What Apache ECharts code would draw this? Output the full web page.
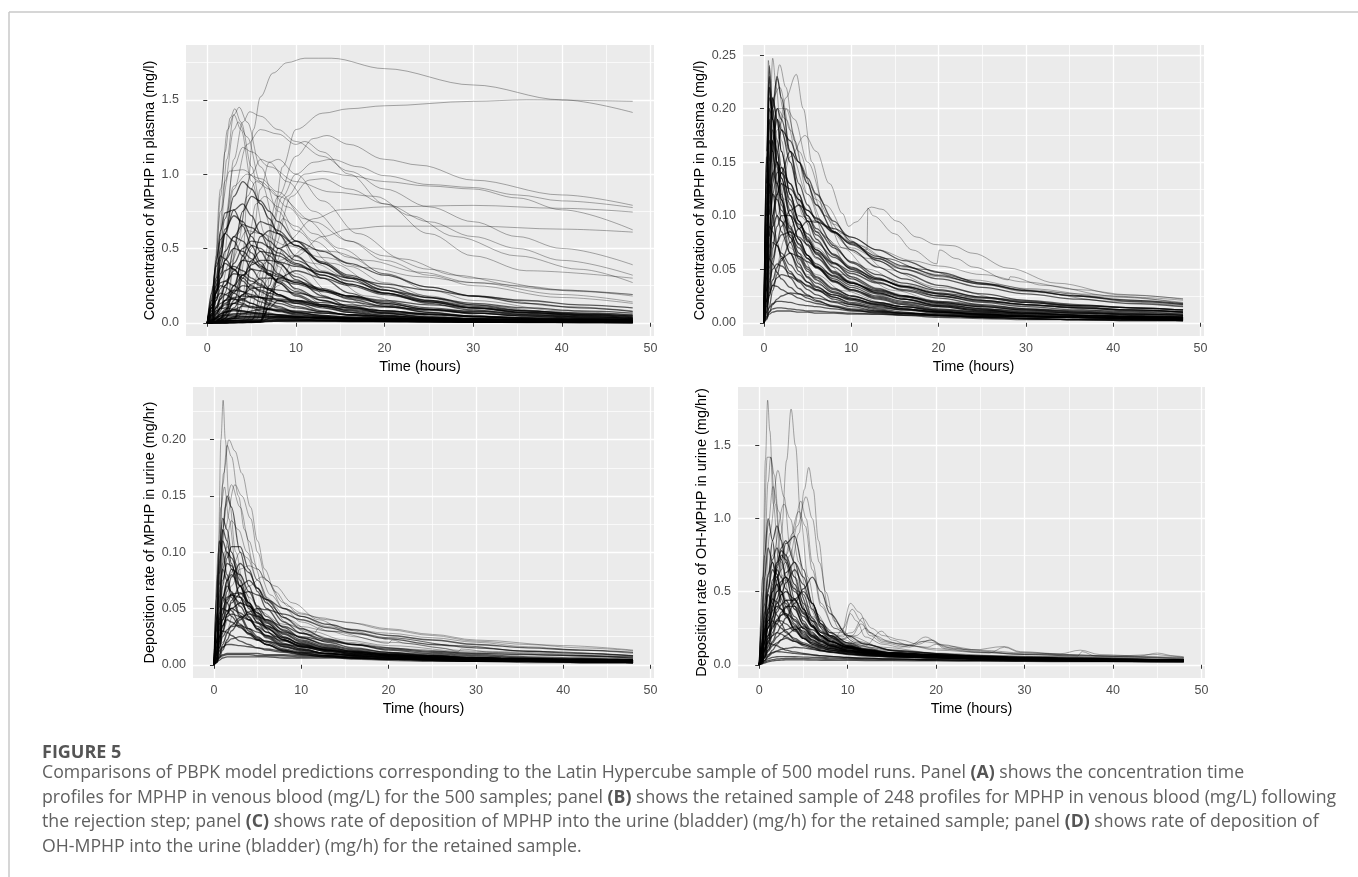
<!DOCTYPE html>
<html>
<head>
<meta charset="utf-8">
<title>Figure 5</title>
<script src="https://cdn.jsdelivr.net/npm/echarts@6/dist/echarts.min.js"></script>
<style>
html,body{margin:0;padding:0;background:#fff;}
#main{width:1358px;height:877px;}
</style>
</head>
<body>
<div id="main"></div>
<script>
// tick labels
var timeTicks = [0, 10, 20, 30, 40, 50];
var plasmaAllTicks = [0, 0.5, 1, 1.5];
var plasmaKeptTicks = [0, 0.05, 0.1, 0.15, 0.2, 0.25];
var urineMphpTicks = [0, 0.05, 0.1, 0.15, 0.2];
var urineOhTicks = [0, 0.5, 1, 1.5];

// time grids (hours) for the bulk of the runs
var tA = [0, 0.5, 1, 1.5, 2, 3, 4, 5, 6, 7, 8, 10, 13, 16, 20, 25, 30, 36, 42, 48];
var tB = [0, 0.3, 0.6, 1, 1.5, 2, 3, 4, 5, 6, 8, 10, 13, 16, 20, 25, 30, 36, 42, 48];
var tD = [0, 0.3, 0.6, 1, 1.5, 2, 2.5, 3, 4, 5, 6, 7, 8, 10, 12, 15, 20, 25, 30, 36, 42, 48];

// panel A - all 500 runs, plasma mg/l (values on tA)
var plasmaAllGrid = [
  [0,.08,.3,.5,.63,.72,.68,.58,.48,.4,.33,.23,.15,.1,.065,.04,.026,.016,.01,.007],
  [0,.04,.15,.3,.42,.58,.66,.64,.6,.55,.5,.42,.34,.28,.22,.17,.13,.1,.08,.065],
  [0,.15,.42,.56,.6,.55,.45,.36,.29,.23,.19,.13,.08,.05,.03,.015,.01,.006,.004,.003],
  [0,.02,.08,.16,.25,.4,.5,.55,.54,.51,.47,.4,.32,.26,.2,.15,.11,.08,.06,.045],
  [0,.06,.2,.33,.42,.5,.48,.43,.37,.32,.28,.21,.15,.11,.08,.055,.04,.03,.02,.015],
  [0,0,.005,.01,.03,.15,.3,.42,.48,.47,.45,.39,.32,.26,.2,.14,.1,.07,.05,.035],
  [0,.2,.38,.45,.43,.36,.28,.22,.17,.13,.11,.07,.045,.03,.018,.01,.006,.004,.003,.002],
  [0,.03,.1,.18,.25,.35,.42,.41,.38,.35,.32,.27,.22,.18,.15,.12,.1,.08,.065,.055],
  [0,.08,.2,.3,.35,.38,.35,.3,.26,.22,.19,.14,.1,.07,.05,.03,.02,.014,.01,.007],
  [0,.01,.05,.1,.15,.25,.32,.36,.35,.33,.31,.27,.22,.18,.14,.1,.075,.055,.04,.03],
  [0,.05,.15,.23,.28,.33,.32,.28,.25,.22,.19,.15,.11,.085,.06,.04,.03,.02,.015,.012],
  [0,0,0,0,.002,.005,.008,.01,.015,.2,.3,.28,.23,.18,.13,.09,.065,.045,.03,.022],
  [0,.1,.22,.27,.28,.25,.21,.17,.14,.12,.1,.07,.05,.035,.022,.013,.008,.005,.003,.002],
  [0,.02,.06,.11,.15,.21,.25,.24,.22,.2,.18,.15,.12,.1,.08,.06,.045,.035,.027,.02],
  [0,0,.01,.03,.06,.13,.19,.23,.24,.23,.22,.2,.17,.14,.11,.085,.065,.05,.04,.03],
  [0,.04,.11,.16,.19,.22,.21,.19,.17,.15,.13,.1,.075,.055,.04,.026,.018,.012,.008,.006],
  [0,.1,.17,.2,.19,.16,.13,.1,.08,.065,.055,.04,.028,.02,.013,.008,.005,.003,.002,.001],
  [0,.01,.03,.06,.09,.13,.16,.18,.17,.16,.15,.13,.11,.09,.07,.055,.042,.032,.025,.02],
  [0,.04,.1,.13,.15,.16,.15,.13,.11,.095,.08,.06,.042,.03,.02,.012,.008,.005,.003,.002],
  [0,0,0,0,0,.003,.005,.008,.01,.1,.15,.14,.12,.1,.08,.06,.045,.033,.025,.018],
  [0,.03,.07,.1,.12,.13,.12,.11,.1,.09,.08,.065,.05,.04,.03,.022,.016,.012,.009,.007],
  [0,.01,.03,.05,.07,.09,.11,.105,.1,.095,.09,.08,.065,.055,.045,.035,.028,.022,.017,.013],
  [0,.05,.08,.095,.1,.09,.08,.065,.055,.045,.038,.028,.019,.013,.008,.005,.003,.002,.001,.001],
  [0,0,.005,.01,.02,.04,.06,.08,.09,.088,.085,.075,.065,.055,.045,.035,.028,.022,.018,.014],
  [0,.02,.04,.06,.07,.08,.075,.07,.064,.058,.052,.043,.034,.027,.02,.015,.011,.008,.006,.005],
  [0,.01,.025,.035,.045,.058,.065,.063,.06,.057,.054,.048,.042,.037,.032,.027,.023,.019,.016,.013],
  [0,.02,.035,.045,.05,.048,.044,.04,.036,.032,.029,.024,.019,.015,.011,.008,.006,.004,.003,.002],
  [0,0,0,0,0,.002,.004,.006,.008,.03,.04,.038,.034,.03,.026,.022,.019,.016,.014,.012],
  [0,.003,.008,.014,.02,.028,.033,.035,.034,.033,.032,.03,.028,.026,.024,.022,.02,.018,.016,.015],
  [0,.01,.02,.025,.028,.03,.029,.027,.025,.023,.021,.018,.015,.012,.01,.008,.006,.005,.004,.003],
  [0,.005,.01,.013,.015,.017,.018,.018,.018,.018,.017,.017,.016,.015,.014,.013,.012,.011,.01,.009],
  [0,.002,.005,.007,.008,.009,.009,.009,.009,.009,.009,.008,.008,.007,.007,.006,.006,.005,.005,.004],
  [0,0,0,0,0,.002,.004,.006,.01,.25,.5,.55,.48,.4,.32,.24,.18,.13,.1,.075],
  [0,.01,.03,.08,.2,.5,.75,.85,.82,.75,.68,.55,.4,.3,.2,.13,.085,.055,.035,.024],
  [0,.05,.2,.42,.6,.85,.95,.9,.8,.7,.6,.45,.3,.2,.12,.07,.04,.022,.013,.008],
  [0,0,.01,.02,.05,.22,.45,.6,.68,.66,.62,.52,.41,.32,.24,.17,.12,.08,.055,.04],
  [0,.01,.03,.045,.055,.06,.058,.054,.05,.046,.043,.037,.031,.026,.021,.016,.013,.01,.008,.006],
  [0,.004,.012,.02,.026,.034,.038,.04,.04,.039,.038,.036,.033,.03,.027,.024,.021,.019,.017,.015],
  [0,.015,.04,.06,.075,.085,.08,.072,.064,.057,.05,.04,.03,.023,.016,.011,.008,.005,.004,.003],
  [0,0,0,0,0,.001,.002,.003,.004,.015,.022,.022,.02,.018,.016,.014,.012,.011,.01,.009],
  [0,.12,.4,.62,.74,.76,.65,.52,.41,.33,.27,.18,.11,.07,.04,.022,.013,.008,.005,.003],
  [0,0,.01,.03,.07,.2,.32,.39,.42,.42,.41,.38,.34,.3,.26,.22,.18,.15,.12,.1],
  [0,.06,.22,.38,.48,.58,.55,.47,.39,.32,.27,.19,.12,.08,.05,.03,.018,.011,.007,.005],
  [0,0,.01,.03,.08,.25,.42,.52,.5,.45,.4,.31,.22,.16,.11,.07,.045,.028,.018,.012],
  [0,.1,.28,.37,.4,.36,.3,.25,.21,.18,.15,.11,.075,.052,.034,.021,.013,.008,.005,.003],
  [0,0,.005,.015,.03,.1,.19,.26,.3,.3,.29,.26,.21,.17,.13,.09,.065,.045,.032,.023],
  [0,0,0,.005,.01,.03,.12,.4,.58,.62,.6,.52,.4,.31,.22,.15,.1,.065,.043,.028],
  [0,.12,.21,.25,.24,.2,.16,.13,.105,.088,.075,.055,.038,.027,.017,.01,.006,.004,.002,.001],
  [0,.02,.06,.1,.13,.17,.18,.175,.17,.165,.16,.15,.135,.12,.105,.09,.078,.066,.056,.048],
  [0,.008,.02,.03,.036,.042,.044,.044,.043,.042,.041,.039,.036,.033,.03,.027,.024,.021,.019,.017],
  [0,.001,.003,.005,.007,.01,.012,.013,.013,.013,.013,.013,.012,.012,.011,.011,.01,.009,.009,.008],
  [0,0,0,0,0,0,.001,.002,.003,.008,.012,.014,.014,.013,.012,.011,.01,.009,.008,.007],
  [0,.06,.25,.45,.6,.76,.8,.72,.6,.5,.41,.29,.18,.11,.065,.035,.02,.011,.006,.004],
  [0,0,0,0,0,.001,.002,.003,.005,.12,.3,.35,.3,.25,.19,.14,.1,.07,.05,.035]
];
// panel A - individually visible runs, [hours, mg/l]
var plasmaAllCurves = [
  [[0,0],[3.2,0.02],[4,0.45],[4.6,0.95],[5.2,1.3],[6,1.52],[7.4,1.68],[9,1.75],[11,1.78],[14,1.78],[20,1.71],[30,1.6],[40,1.5],[48,1.415]],
  [[0,0],[5,0.02],[6.5,0.3],[7.5,0.7],[8.5,1.05],[10,1.3],[13,1.41],[16,1.44],[20,1.46],[30,1.49],[36,1.5],[48,1.49]],
  [[0,0],[0.5,0.1],[1,0.45],[1.5,0.85],[2,1.15],[2.6,1.38],[3.1,1.44],[3.8,1.35],[5,1.05],[6,0.8],[8,0.5],[10,0.33],[14,0.16],[20,0.07],[30,0.02],[48,0.005]],
  [[0,0],[0.8,0.1],[1.5,0.6],[2.2,1.1],[3,1.4],[3.6,1.45],[4.5,1.35],[6,1.05],[8,0.75],[10,0.55],[13,0.35],[18,0.18],[25,0.08],[35,0.03],[48,0.01]],
  [[0,0],[1,0.15],[2,0.6],[3,1.1],[4,1.35],[4.8,1.42],[6,1.39],[8,1.3],[10,1.22],[13,1.12],[16,1.02],[20,0.9],[25,0.78],[30,0.68],[35,0.58],[40,0.5],[48,0.39]],
  [[0,0],[4,0.02],[6,0.35],[8,0.85],[10,1.12],[12,1.24],[13.5,1.26],[16,1.2],[20,1.1],[24,1.06],[30,0.96],[40,0.86],[48,0.79]],
  [[0,0],[4.5,0.02],[6.5,0.4],[8.5,0.85],[10,1.0],[12,1.08],[14,1.1],[17,1.05],[20,0.99],[25,0.93],[30,0.91],[35,0.86],[40,0.82],[48,0.775]],
  [[0,0],[5,0.02],[7,0.45],[9,0.85],[11,1.0],[13,1.02],[16,0.99],[20,0.95],[25,0.92],[30,0.9],[35,0.84],[40,0.76],[48,0.625]],
  [[0,0],[5.5,0.02],[7.5,0.5],[9.5,0.85],[11.5,0.96],[13,0.97],[16,0.9],[20,0.8],[25,0.68],[30,0.58],[35,0.5],[40,0.42],[48,0.32]],
  [[0,0],[5,0.02],[7,0.3],[9,0.55],[12,0.7],[15,0.76],[20,0.78],[30,0.79],[40,0.77],[48,0.745]],
  [[0,0],[6,0.02],[8,0.25],[10,0.45],[13,0.58],[16,0.63],[20,0.65],[30,0.65],[40,0.63],[48,0.61]],
  [[0,0],[1.5,0.3],[3,0.9],[4.5,1.2],[6,1.3],[8,1.27],[10,1.2],[11,1.22],[13,1.15],[16,1.0],[20,0.8],[25,0.6],[30,0.45],[36,0.35],[48,0.3]],
  [[0,0],[1,0.2],[2,0.7],[3,1.05],[4,1.18],[5,1.15],[7,1.05],[10,0.95],[14,0.88],[19,0.85],[23,0.72],[28,0.58],[35,0.45],[42,0.36],[48,0.27]],
  [[0,0],[0.7,0.2],[1.5,0.75],[2.5,1.02],[4,1.03],[6,0.95],[8,0.85],[12,0.68],[16,0.55],[20,0.45],[25,0.36],[30,0.3],[40,0.22],[48,0.18]],
  [[0,0],[2,0.1],[3.5,0.6],[5,1.0],[6,1.1],[7,1.08],[9,0.95],[12,0.75],[16,0.55],[20,0.42],[25,0.32],[30,0.25],[40,0.17],[48,0.13]],
  [[0,0],[1,0.3],[2,0.95],[3,1.3],[3.5,1.35],[4.5,1.25],[6,0.95],[8,0.6],[10,0.4],[14,0.2],[20,0.08],[30,0.03],[48,0.01]],
  [[0,0],[0.7,0.25],[1.5,0.9],[2.3,1.3],[3,1.4],[3.8,1.3],[5,0.95],[6.5,0.6],[8,0.38],[10,0.22],[14,0.09],[20,0.03],[48,0.005]],
  [[0,0],[3,0.02],[4.5,0.5],[5.5,0.8],[6.5,0.85],[8,0.78],[10,0.62],[14,0.4],[20,0.22],[25,0.14],[30,0.09],[40,0.05],[48,0.03]],
  [[0,0],[6.5,0.02],[7,0.3],[7.8,0.6],[8.5,0.7],[10,0.65],[12,0.55],[16,0.38],[20,0.27],[25,0.18],[30,0.12],[40,0.06],[48,0.04]],
  [[0,0],[1,0.1],[2.5,0.4],[4.5,0.62],[6,0.6],[9,0.52],[13,0.44],[18,0.37],[24,0.31],[30,0.27],[40,0.22],[48,0.19]],
  [[0,0],[5,0.02],[7,0.2],[9,0.42],[11,0.5],[14,0.48],[18,0.42],[24,0.34],[30,0.27],[40,0.19],[48,0.14]],
  [[0,0],[2,0.08],[3.5,0.55],[4.5,0.85],[5.5,0.95],[7,0.9],[9,0.78],[12,0.6],[16,0.44],[20,0.33],[25,0.24],[30,0.18],[40,0.11],[48,0.08]],
  [[0,0],[6.8,0.02],[7.3,0.25],[8.2,0.42],[9.5,0.45],[12,0.4],[16,0.3],[22,0.2],[30,0.12],[40,0.07],[48,0.045]],
  [[0,0],[1,0.25],[2,0.7],[3,0.92],[4.5,1.0],[6,0.97],[8,0.88],[11,0.7],[15,0.5],[20,0.33],[25,0.22],[30,0.15],[40,0.08],[48,0.05]],
  [[0,0],[3.5,0.03],[5,0.5],[6,0.9],[7,1.08],[8,1.1],[10,1.0],[13,0.82],[17,0.6],[22,0.43],[28,0.32],[35,0.25],[42,0.21],[48,0.19]]
];

// panel B - 248 retained runs, plasma mg/l (values on tB)
var plasmaKeptGrid = [
  [0,.12,.22,.19,.15,.12,.085,.065,.052,.043,.032,.025,.019,.015,.011,.008,.006,.005,.004,.003],
  [0,.06,.15,.21,.19,.16,.12,.095,.078,.065,.048,.038,.028,.022,.016,.012,.009,.007,.006,.005],
  [0,.04,.11,.17,.2,.19,.16,.13,.11,.095,.072,.056,.042,.033,.025,.019,.015,.012,.01,.008],
  [0,.13,.19,.16,.12,.095,.065,.048,.038,.031,.022,.017,.012,.009,.007,.005,.004,.003,.003,.002],
  [0,.03,.08,.13,.16,.18,.17,.15,.13,.11,.085,.068,.052,.041,.031,.024,.019,.015,.012,.01],
  [0,.07,.14,.17,.15,.13,.1,.078,.063,.052,.038,.03,.022,.017,.012,.009,.007,.005,.004,.004],
  [0,.02,.05,.09,.12,.14,.16,.15,.135,.12,.095,.076,.058,.046,.035,.027,.021,.017,.014,.012],
  [0,.155,.13,.1,.075,.06,.042,.032,.026,.021,.015,.012,.009,.007,.005,.004,.003,.003,.002,.002],
  [0,.04,.1,.14,.15,.14,.115,.095,.08,.068,.052,.041,.031,.025,.019,.015,.012,.009,.008,.007],
  [0,.02,.06,.1,.13,.14,.13,.115,.1,.088,.07,.057,.045,.037,.03,.024,.02,.016,.014,.012],
  [0,.08,.13,.12,.1,.085,.065,.052,.043,.037,.028,.022,.017,.013,.01,.008,.006,.005,.004,.003],
  [0,.04,.09,.12,.115,.105,.088,.074,.063,.055,.043,.035,.027,.022,.017,.013,.011,.009,.007,.006],
  [0,.01,.03,.055,.075,.09,.105,.11,.105,.098,.085,.073,.06,.05,.041,.033,.027,.022,.018,.015],
  [0,.03,.065,.09,.1,.095,.082,.07,.06,.052,.041,.033,.025,.02,.015,.011,.009,.007,.006,.005],
  [0,.06,.09,.085,.072,.062,.048,.038,.031,.026,.019,.015,.011,.009,.007,.005,.004,.003,.003,.002],
  [0,.015,.04,.06,.075,.082,.085,.08,.073,.066,.055,.046,.037,.031,.025,.02,.017,.014,.012,.01],
  [0,.03,.06,.075,.072,.065,.054,.045,.038,.033,.026,.021,.016,.013,.01,.008,.006,.005,.004,.004],
  [0,.01,.025,.04,.052,.06,.065,.062,.057,.052,.044,.037,.03,.025,.02,.016,.013,.011,.009,.008],
  [0,.02,.038,.05,.055,.053,.046,.04,.034,.03,.024,.019,.015,.012,.009,.007,.006,.005,.004,.003],
  [0,.01,.025,.035,.042,.045,.043,.039,.035,.031,.026,.022,.018,.015,.012,.01,.008,.007,.006,.005],
  [0,.015,.028,.035,.034,.031,.027,.023,.02,.018,.015,.012,.01,.008,.006,.005,.004,.003,.003,.002],
  [0,.003,.01,.017,.022,.025,.028,.027,.025,.023,.02,.017,.014,.012,.01,.008,.007,.006,.005,.004],
  [0,.008,.014,.018,.02,.02,.019,.017,.016,.015,.013,.011,.01,.009,.008,.007,.006,.005,.005,.004],
  [0,.004,.008,.01,.011,.011,.011,.01,.01,.009,.009,.008,.008,.007,.007,.006,.006,.005,.005,.004],
  [0,.1,.2,.19,.16,.135,.105,.088,.076,.068,.056,.048,.04,.034,.028,.023,.019,.016,.014,.012],
  [0,.03,.07,.1,.12,.13,.125,.115,.105,.097,.084,.074,.062,.053,.044,.036,.03,.025,.021,.018],
  [0,.005,.015,.03,.045,.058,.075,.088,.095,.094,.088,.08,.068,.058,.047,.037,.03,.025,.02,.017],
  [0,.14,.24,.2,.15,.115,.075,.055,.042,.034,.024,.018,.013,.01,.007,.005,.004,.003,.002,.002],
  [0,.05,.13,.2,.23,.21,.16,.12,.095,.078,.056,.043,.032,.025,.018,.013,.01,.008,.006,.005],
  [0,.13,.21,.2,.17,.145,.11,.088,.072,.061,.046,.037,.029,.024,.019,.015,.012,.01,.008,.007],
  [0,.09,.15,.18,.16,.135,.1,.078,.063,.053,.039,.031,.023,.018,.013,.01,.008,.006,.005,.004],
  [0,.045,.06,.055,.047,.041,.033,.027,.023,.02,.016,.013,.011,.009,.008,.006,.005,.005,.004,.003],
  [0,.1,.18,.21,.19,.16,.12,.095,.077,.064,.047,.037,.028,.022,.016,.012,.009,.007,.006,.005],
  [0,.16,.23,.19,.145,.115,.08,.06,.048,.04,.029,.023,.017,.013,.01,.007,.006,.004,.004,.003],
  [0,.05,.12,.17,.19,.18,.15,.12,.1,.085,.063,.05,.038,.03,.023,.017,.013,.01,.008,.007],
  [0,.07,.12,.14,.13,.115,.09,.073,.06,.051,.039,.031,.024,.019,.015,.011,.009,.007,.006,.005],
  [0,.02,.045,.07,.09,.1,.1,.092,.083,.075,.061,.051,.041,.034,.027,.021,.017,.014,.011,.01],
  [0,.006,.01,.013,.014,.014,.013,.012,.011,.011,.01,.009,.008,.008,.007,.006,.006,.005,.004,.004],
  [0,.11,.17,.16,.13,.11,.08,.062,.05,.042,.031,.025,.019,.015,.011,.008,.006,.005,.004,.003],
  [0,.03,.08,.12,.14,.145,.13,.11,.095,.082,.064,.052,.041,.034,.027,.021,.017,.014,.012,.01]
];
var plasmaKeptCurves = [
  [[0,0],[0.5,0.03],[1.5,0.1],[3,0.155],[4.7,0.175],[6,0.16],[7.5,0.13],[9,0.102],[9.7,0.09],[10.5,0.094],[12.3,0.108],[13.5,0.106],[15.2,0.095],[17.5,0.08],[19.7,0.073],[21.6,0.072],[23.9,0.065],[28,0.051],[33.5,0.037],[41,0.026],[48,0.0225]],
  [[0,0],[0.5,0.1],[1.5,0.2],[2.5,0.2],[4,0.16],[6,0.11],[8,0.085],[10,0.075],[11.8,0.068],[11.9,0.107],[12.5,0.1],[15,0.083],[17,0.068],[19.8,0.055],[20.1,0.068],[22,0.06],[24,0.052],[28,0.04],[28.2,0.043],[32,0.035],[40,0.025],[48,0.018]],
  [[0,0],[0.3,0.1],[0.5,0.245],[0.8,0.2],[1.2,0.15],[2,0.1],[3,0.07],[5,0.045],[8,0.028],[12,0.018],[20,0.01],[30,0.006],[48,0.003]],
  [[0,0],[0.4,0.1],[0.7,0.2],[1,0.247],[1.4,0.22],[2,0.17],[3,0.12],[4,0.09],[6,0.06],[9,0.04],[14,0.025],[20,0.016],[30,0.01],[48,0.005]],
  [[0,0],[0.5,0.1],[1,0.2],[1.8,0.241],[2.5,0.22],[3.5,0.17],[5,0.12],[7,0.08],[10,0.05],[15,0.03],[20,0.02],[30,0.012],[48,0.006]],
  [[0,0],[0.5,0.08],[1.5,0.17],[2.5,0.21],[3.7,0.232],[4.5,0.2],[5.5,0.15],[7,0.1],[9,0.07],[12,0.05],[16,0.035],[22,0.024],[30,0.016],[40,0.011],[48,0.009]],
  [[0,0],[0.5,0.1],[1.5,0.18],[2.6,0.2],[3.5,0.19],[5,0.15],[7,0.11],[10,0.075],[14,0.05],[20,0.033],[28,0.022],[36,0.016],[48,0.011]],
  [[0,0],[0.4,0.12],[0.9,0.2],[1.5,0.228],[2.2,0.2],[3,0.15],[4.5,0.1],[6,0.07],[9,0.045],[13,0.03],[20,0.018],[30,0.01],[48,0.005]],
  [[0,0],[0.3,0.15],[0.6,0.22],[1,0.19],[1.5,0.15],[2.5,0.1],[4,0.065],[6,0.045],[9,0.03],[14,0.018],[22,0.01],[35,0.006],[48,0.004]],
  [[0,0],[0.5,0.07],[1.5,0.12],[2.5,0.115],[4,0.1],[6,0.085],[9,0.07],[12,0.06],[16,0.05],[20,0.043],[25,0.036],[30,0.031],[36,0.027],[42,0.024],[48,0.021]],
  [[0,0],[1,0.04],[2.5,0.08],[4,0.1],[6,0.095],[8,0.085],[10,0.075],[14,0.06],[18,0.05],[24,0.04],[30,0.032],[40,0.024],[48,0.019]],
  [[0,0],[0.5,0.1],[1.5,0.2],[2.5,0.19],[4,0.15],[6,0.115],[8,0.092],[10,0.08],[13,0.068],[17,0.058],[20,0.053],[25,0.045],[30,0.038],[36,0.031],[42,0.026],[48,0.022]],
  [[0,0],[0.5,0.12],[1,0.21],[1.8,0.22],[3,0.18],[5,0.13],[7,0.1],[9,0.083],[11,0.072],[14,0.06],[18,0.05],[24,0.038],[30,0.029],[40,0.02],[48,0.016]],
  [[0,0],[0.8,0.15],[1.5,0.19],[3,0.16],[5,0.12],[7,0.09],[10,0.07],[13,0.06],[16,0.052],[20,0.045],[26,0.036],[32,0.029],[40,0.022],[48,0.017]]
];

// panel C - MPHP deposition in urine, mg/hr (values on tB)
var urineMphpGrid = [
  [0,.02,.07,.12,.15,.14,.1,.07,.05,.038,.025,.018,.013,.01,.008,.006,.005,.004,.003,.003],
  [0,.03,.08,.12,.11,.09,.06,.042,.031,.024,.016,.012,.009,.007,.005,.004,.003,.003,.002,.002],
  [0,.01,.035,.07,.095,.105,.105,.085,.065,.05,.033,.024,.017,.013,.01,.008,.006,.005,.004,.003],
  [0,.02,.05,.085,.1,.095,.075,.055,.042,.033,.022,.016,.012,.009,.007,.005,.004,.003,.003,.002],
  [0,.005,.02,.045,.065,.078,.09,.082,.068,.055,.038,.028,.02,.015,.011,.008,.006,.005,.004,.004],
  [0,.03,.065,.085,.075,.06,.042,.03,.023,.018,.012,.009,.007,.005,.004,.003,.003,.002,.002,.002],
  [0,.01,.035,.06,.075,.08,.07,.055,.043,.035,.024,.018,.013,.01,.008,.006,.005,.004,.003,.003],
  [0,.003,.012,.028,.045,.057,.07,.075,.068,.058,.042,.032,.023,.018,.013,.01,.008,.006,.005,.004],
  [0,.015,.04,.06,.07,.065,.052,.04,.032,.026,.018,.014,.01,.008,.006,.005,.004,.003,.003,.002],
  [0,.008,.025,.045,.058,.063,.064,.055,.046,.039,.028,.021,.015,.012,.009,.007,.006,.005,.004,.004],
  [0,.02,.045,.06,.055,.048,.036,.028,.022,.018,.013,.01,.008,.006,.005,.004,.003,.003,.002,.002],
  [0,.005,.018,.034,.045,.05,.055,.052,.046,.04,.031,.024,.018,.014,.011,.009,.007,.006,.005,.004],
  [0,.008,.025,.04,.048,.05,.046,.04,.034,.029,.022,.017,.013,.01,.008,.006,.005,.004,.004,.003],
  [0,.002,.008,.018,.028,.035,.042,.045,.043,.04,.034,.028,.022,.018,.014,.011,.009,.007,.006,.005],
  [0,.01,.025,.035,.04,.038,.033,.028,.024,.021,.016,.013,.01,.008,.007,.005,.004,.004,.003,.003],
  [0,.005,.015,.025,.031,.034,.035,.032,.029,.026,.021,.017,.014,.011,.009,.007,.006,.005,.004,.004],
  [0,.012,.024,.03,.029,.026,.021,.018,.015,.013,.011,.009,.007,.006,.005,.004,.003,.003,.003,.002],
  [0,.003,.009,.015,.02,.023,.025,.024,.022,.021,.018,.016,.013,.011,.009,.008,.006,.005,.005,.004],
  [0,.006,.012,.016,.018,.018,.017,.016,.015,.014,.012,.011,.01,.009,.008,.007,.006,.005,.005,.004],
  [0,.004,.007,.009,.01,.01,.01,.01,.01,.009,.009,.008,.008,.007,.007,.006,.006,.005,.005,.004],
  [0,.002,.004,.006,.007,.007,.007,.007,.007,.007,.006,.006,.006,.006,.005,.005,.005,.004,.004,.004],
  [0,.004,.015,.03,.045,.055,.063,.065,.062,.058,.05,.043,.036,.031,.026,.022,.018,.015,.013,.011],
  [0,.006,.02,.035,.043,.045,.043,.04,.037,.034,.029,.025,.021,.018,.015,.012,.01,.009,.008,.007],
  [0,.04,.1,.13,.12,.1,.07,.05,.037,.029,.019,.014,.01,.008,.006,.005,.004,.003,.003,.002],
  [0,.06,.11,.1,.08,.064,.044,.032,.025,.02,.014,.011,.008,.006,.005,.004,.003,.003,.002,.002],
  [0,.002,.006,.013,.022,.03,.04,.047,.05,.049,.045,.04,.033,.028,.023,.018,.015,.012,.01,.008],
  [0,.04,.09,.11,.1,.085,.06,.043,.032,.025,.017,.013,.01,.008,.006,.005,.004,.003,.003,.002],
  [0,.015,.045,.075,.09,.088,.07,.053,.041,.033,.022,.016,.012,.009,.007,.006,.005,.004,.003,.003],
  [0,.005,.02,.04,.055,.062,.06,.052,.044,.037,.027,.02,.015,.012,.009,.007,.006,.005,.004,.003],
  [0,.02,.04,.05,.048,.043,.034,.027,.022,.018,.013,.01,.008,.007,.005,.004,.004,.003,.003,.002],
  [0,.003,.006,.008,.009,.009,.009,.009,.008,.008,.008,.007,.007,.006,.006,.005,.005,.004,.004,.003],
  [0,.01,.03,.05,.06,.062,.055,.046,.038,.032,.024,.019,.014,.011,.009,.007,.006,.005,.004,.004],
  [0,.01,.03,.055,.075,.085,.08,.065,.052,.043,.03,.022,.016,.012,.01,.008,.006,.005,.004,.004]
];
var urineMphpCurves = [
  [[0,0],[0.5,0.1],[0.8,0.2],[1.05,0.235],[1.3,0.2],[1.7,0.15],[2.5,0.1],[3.5,0.065],[5,0.04],[7,0.025],[10,0.015],[15,0.009],[25,0.005],[48,0.002]],
  [[0,0],[0.5,0.08],[1.1,0.17],[1.7,0.2],[2.4,0.19],[3.2,0.17],[4.2,0.14],[5,0.11],[5.8,0.085],[7,0.065],[8.5,0.052],[10,0.046],[12,0.042],[15,0.038],[20,0.031],[25,0.026],[30,0.021],[36,0.018],[42,0.015],[48,0.0125]],
  [[0,0],[0.5,0.07],[1,0.16],[1.5,0.195],[2,0.185],[2.8,0.15],[3.5,0.12],[4.5,0.09],[6,0.06],[8,0.042],[10,0.034],[13,0.03],[15.5,0.029],[20,0.024],[28,0.017],[36,0.012],[48,0.008]],
  [[0,0],[0.5,0.05],[1.2,0.12],[2.4,0.16],[3.2,0.15],[4.2,0.13],[5,0.1],[6,0.075],[8,0.05],[10,0.038],[13,0.03],[20,0.02],[30,0.012],[48,0.006]],
  [[0,0],[0.4,0.08],[0.8,0.14],[1.2,0.158],[1.7,0.13],[2.5,0.09],[3.5,0.06],[5,0.04],[7,0.025],[10,0.016],[15,0.01],[25,0.006],[48,0.003]],
  [[0,0],[0.5,0.05],[1.2,0.1],[2,0.128],[2.8,0.12],[3.8,0.1],[5,0.075],[6.5,0.052],[8.5,0.036],[11,0.027],[15,0.02],[22,0.014],[30,0.01],[48,0.006]],
  [[0,0],[0.8,0.04],[1.8,0.08],[3,0.1],[3.8,0.095],[5,0.075],[6.5,0.055],[8.5,0.04],[11,0.03],[15,0.022],[20,0.017],[30,0.011],[48,0.006]],
  [[0,0],[1,0.04],[2,0.07],[3,0.085],[4,0.088],[5,0.085],[6,0.075],[8,0.055],[10,0.043],[13,0.034],[15,0.032],[20,0.028],[25,0.024],[30,0.02],[36,0.016],[42,0.013],[48,0.01]],
  [[0,0],[1,0.02],[2.5,0.05],[4,0.07],[5.5,0.078],[7,0.07],[9,0.055],[12,0.04],[15,0.031],[20,0.024],[28,0.017],[36,0.012],[48,0.008]],
  [[0,0],[1,0.03],[2,0.05],[3,0.055],[5,0.048],[8,0.036],[11.5,0.028],[12,0.033],[13,0.03],[16,0.025],[20,0.019],[20.4,0.022],[22,0.019],[26,0.015],[28,0.012],[28.3,0.014],[32,0.011],[40,0.008],[48,0.006]],
  [[0,0],[0.5,0.05],[1,0.09],[1.5,0.105],[2,0.1],[3,0.08],[4,0.06],[6,0.035],[9,0.02],[14,0.012],[24,0.006],[48,0.003]],
  [[0,0],[0.6,0.06],[1.3,0.14],[2,0.16],[3,0.14],[4,0.11],[5,0.085],[6.5,0.062],[8,0.05],[10,0.045],[13,0.04],[16,0.037],[20,0.032],[25,0.027],[30,0.022],[40,0.017],[48,0.013]]
];

// panel D - OH-MPHP deposition in urine, mg/hr (values on tD)
var urineOhGrid = [
  [0,.1,.3,.6,.85,.95,.85,.7,.45,.3,.22,.17,.14,.11,.09,.075,.06,.05,.042,.036,.031,.027],
  [0,.05,.15,.3,.5,.68,.8,.85,.7,.48,.32,.23,.18,.13,.1,.08,.065,.055,.046,.039,.034,.03],
  [0,.25,.6,.8,.7,.55,.42,.34,.24,.18,.14,.12,.1,.085,.072,.06,.05,.042,.036,.031,.027,.024],
  [0,.05,.15,.32,.52,.66,.75,.72,.55,.38,.26,.19,.15,.11,.09,.074,.06,.05,.043,.037,.032,.028],
  [0,.03,.1,.2,.33,.45,.55,.63,.7,.6,.42,.28,.2,.13,.1,.08,.065,.055,.047,.04,.035,.031],
  [0,.12,.33,.52,.65,.6,.5,.42,.3,.22,.17,.14,.12,.095,.08,.066,.054,.045,.039,.034,.03,.026],
  [0,.04,.12,.25,.4,.5,.57,.6,.52,.38,.27,.2,.16,.12,.095,.078,.064,.054,.046,.04,.035,.031],
  [0,.08,.22,.38,.5,.55,.5,.44,.33,.25,.19,.15,.13,.1,.085,.07,.057,.048,.041,.035,.031,.027],
  [0,.02,.06,.12,.2,.28,.34,.39,.45,.5,.42,.3,.22,.15,.11,.085,.068,.057,.048,.041,.036,.032],
  [0,.15,.36,.48,.42,.34,.28,.23,.17,.14,.12,.1,.09,.075,.065,.056,.047,.04,.035,.031,.027,.024],
  [0,.03,.09,.18,.28,.36,.41,.44,.44,.36,.27,.2,.16,.12,.095,.078,.064,.054,.046,.04,.035,.031],
  [0,.06,.16,.28,.37,.4,.38,.34,.27,.21,.17,.14,.12,.095,.08,.066,.054,.046,.04,.035,.031,.028],
  [0,.03,.08,.16,.25,.31,.34,.35,.31,.25,.2,.16,.13,.1,.085,.07,.057,.048,.042,.036,.032,.028],
  [0,.07,.17,.26,.3,.28,.25,.22,.18,.15,.13,.11,.1,.085,.072,.06,.05,.043,.037,.032,.029,.026],
  [0,.02,.05,.1,.15,.19,.22,.24,.26,.23,.19,.16,.13,.1,.085,.07,.058,.049,.042,.036,.032,.029],
  [0,.04,.1,.16,.2,.22,.21,.19,.16,.13,.11,.095,.085,.07,.06,.052,.045,.039,.034,.03,.027,.024],
  [0,.02,.05,.09,.13,.15,.17,.18,.16,.14,.12,.1,.09,.075,.065,.055,.047,.041,.036,.032,.029,.026],
  [0,.05,.11,.15,.14,.13,.115,.1,.088,.078,.07,.063,.058,.05,.045,.04,.035,.031,.028,.025,.023,.021],
  [0,.01,.03,.055,.08,.095,.105,.112,.12,.115,.105,.095,.087,.075,.066,.057,.048,.042,.037,.033,.03,.027],
  [0,.02,.045,.07,.085,.09,.088,.085,.078,.072,.066,.061,.057,.05,.045,.04,.035,.031,.028,.025,.023,.021],
  [0,.01,.025,.04,.05,.055,.056,.056,.055,.053,.051,.049,.047,.044,.041,.038,.034,.031,.028,.026,.024,.022],
  [0,.005,.012,.02,.026,.03,.032,.033,.033,.033,.032,.031,.031,.03,.029,.028,.026,.025,.023,.022,.021,.02],
  [0,.02,.05,.1,.16,.22,.27,.32,.42,.52,.6,.5,.35,.2,.14,.1,.075,.06,.05,.042,.036,.032],
  [0,.15,.42,.62,.7,.62,.5,.4,.28,.2,.16,.13,.11,.09,.075,.062,.05,.042,.036,.031,.027,.024],
  [0,.04,.12,.25,.42,.58,.72,.83,.88,.65,.42,.28,.2,.14,.105,.08,.065,.054,.046,.04,.035,.031],
  [0,.08,.25,.5,.72,.8,.72,.6,.4,.27,.2,.16,.13,.1,.08,.065,.053,.045,.038,.033,.029,.026],
  [0,.3,.75,1.0,.85,.62,.45,.35,.24,.18,.14,.115,.1,.08,.068,.056,.046,.039,.034,.03,.026,.023],
  [0,.02,.07,.15,.27,.38,.48,.56,.65,.55,.38,.26,.19,.13,.1,.08,.064,.054,.046,.04,.035,.031],
  [0,.06,.2,.4,.58,.65,.6,.52,.38,.28,.21,.17,.14,.11,.09,.073,.059,.05,.043,.037,.032,.028],
  [0,.03,.1,.2,.32,.42,.48,.5,.45,.35,.26,.2,.16,.12,.1,.08,.065,.055,.047,.04,.035,.031],
  [0,.1,.25,.38,.45,.43,.38,.33,.25,.19,.15,.13,.11,.09,.077,.064,.052,.044,.038,.033,.029,.026],
  [0,.02,.06,.13,.22,.3,.36,.4,.4,.33,.26,.2,.16,.12,.097,.079,.064,.054,.046,.04,.035,.031],
  [0,.04,.1,.18,.26,.3,.3,.28,.23,.18,.15,.125,.11,.09,.077,.065,.054,.046,.04,.035,.031,.028],
  [0,.01,.03,.06,.1,.14,.17,.2,.24,.26,.24,.2,.16,.12,.095,.077,.062,.052,.045,.039,.034,.03],
  [0,.008,.018,.028,.035,.04,.042,.043,.043,.042,.041,.04,.039,.037,.035,.033,.03,.028,.026,.024,.022,.02],
  [0,.05,.16,.35,.55,.7,.78,.75,.6,.42,.3,.22,.17,.125,.098,.078,.063,.053,.045,.039,.034,.03]
];
var urineOhCurves = [
  [[0,0],[0.4,0.6],[0.7,1.4],[0.95,1.81],[1.2,1.6],[1.6,1.1],[2.2,0.7],[3,0.45],[4,0.3],[6,0.18],[9,0.12],[14,0.08],[20,0.06],[30,0.04],[40,0.03],[48,0.025]],
  [[0,0],[0.5,0.2],[1.5,0.5],[2.5,0.9],[3.1,1.4],[3.6,1.75],[4.1,1.5],[4.7,1.0],[5.5,0.6],[6.5,0.35],[8,0.22],[10,0.15],[14,0.1],[20,0.07],[30,0.05],[48,0.03]],
  [[0,0],[0.4,0.6],[0.9,1.42],[1.3,1.42],[1.8,1.1],[2.5,0.7],[3.5,0.45],[5,0.28],[7,0.18],[10,0.12],[15,0.08],[25,0.05],[48,0.03]],
  [[0,0],[1,0.25],[2.5,0.5],[3.5,0.65],[4.5,0.9],[5.1,1.2],[5.6,1.35],[6.1,1.2],[6.7,0.85],[7.5,0.5],[8.5,0.3],[10,0.2],[14,0.12],[20,0.08],[30,0.05],[48,0.03]],
  [[0,0],[0.5,0.3],[1.2,0.9],[2.1,1.33],[2.8,1.15],[3.5,0.8],[4.5,0.5],[6,0.3],[8,0.2],[11,0.13],[16,0.09],[25,0.06],[48,0.035]],
  [[0,0],[1,0.3],[2.5,0.6],[3.5,0.75],[4.3,0.95],[5.3,1.15],[6,1.0],[6.8,0.7],[7.8,0.4],[9,0.25],[11,0.16],[15,0.1],[22,0.07],[35,0.045],[48,0.03]],
  [[0,0],[1,0.3],[2.5,0.65],[3.8,0.9],[4.7,1.12],[5.3,1.0],[6,0.7],[7,0.42],[8.5,0.25],[11,0.15],[16,0.09],[25,0.06],[48,0.03]],
  [[0,0],[0.5,0.4],[1,0.95],[1.55,1.22],[2.2,1.05],[3,0.75],[4,0.5],[5.5,0.3],[7.5,0.18],[10,0.12],[15,0.08],[25,0.05],[48,0.03]],
  [[0,0],[0.6,0.3],[1.5,0.75],[2.8,1.1],[3.5,1.0],[4.5,0.7],[5.5,0.45],[7,0.28],[9,0.18],[12,0.12],[18,0.08],[28,0.05],[48,0.03]],
  [[0,0],[1,0.25],[2,0.5],[3,0.6],[4.5,0.5],[6,0.33],[8,0.22],[9.3,0.22],[10.3,0.42],[11.3,0.36],[12.5,0.22],[14,0.16],[17,0.13],[18.8,0.19],[20.5,0.14],[24,0.1],[27.7,0.125],[29.5,0.09],[34,0.075],[36.3,0.1],[38.5,0.07],[43,0.06],[45,0.08],[47,0.06],[48,0.055]],
  [[0,0],[1,0.3],[2,0.6],[3,0.7],[4,0.6],[5.5,0.4],[7,0.27],[9,0.2],[10.5,0.22],[11.7,0.32],[12.7,0.25],[14,0.2],[16,0.17],[18,0.14],[19.3,0.17],[21,0.13],[25,0.1],[30,0.08],[40,0.06],[48,0.05]],
  [[0,0],[1,0.3],[2,0.55],[3,0.6],[4,0.5],[5.5,0.33],[7,0.22],[8.5,0.18],[9.5,0.25],[10.5,0.38],[11.5,0.3],[12.5,0.2],[14,0.15],[17,0.12],[18.5,0.16],[19.5,0.17],[21,0.12],[25,0.09],[30,0.075],[40,0.055],[48,0.045]],
  [[0,0],[1,0.35],[2,0.7],[2.8,0.75],[4,0.55],[5.5,0.35],[7,0.22],[9,0.17],[10.5,0.2],[11.5,0.28],[12.5,0.22],[14,0.17],[16,0.14],[20,0.11],[25,0.085],[30,0.07],[40,0.05],[48,0.04]],
  [[0,0],[1,0.2],[2,0.42],[3,0.5],[4.5,0.42],[6,0.3],[8,0.2],[10,0.15],[12,0.13],[13.8,0.23],[15,0.17],[17,0.13],[20,0.1],[26,0.08],[27.7,0.12],[29.5,0.085],[35,0.07],[40,0.06],[45,0.07],[46.5,0.06],[48,0.05]],
  [[0,0],[1,0.25],[2,0.5],[3,0.58],[4,0.5],[6,0.3],[8,0.2],[9.5,0.19],[10.3,0.35],[11,0.3],[12,0.19],[14,0.14],[16,0.12],[18.5,0.16],[19.8,0.15],[21,0.11],[25,0.085],[30,0.07],[36,0.06],[36.5,0.09],[38,0.06],[48,0.045]],
  [[0,0],[1,0.2],[2,0.4],[3.5,0.45],[5,0.35],[7,0.22],[9,0.17],[11,0.2],[12,0.25],[13,0.2],[15,0.15],[19,0.12],[20,0.14],[22,0.11],[30,0.07],[48,0.04]],
  [[0,0],[0.5,0.5],[1,1.25],[1.3,1.42],[1.7,1.3],[2.3,0.9],[3,0.6],[4,0.38],[6,0.2],[9,0.13],[15,0.08],[25,0.05],[48,0.03]],
  [[0,0],[1,0.35],[2,0.6],[3,0.75],[4.5,1.05],[5.2,0.95],[6,0.65],[7,0.4],[8.5,0.25],[11,0.15],[16,0.09],[25,0.06],[48,0.03]]
];

var chart = echarts.init(document.getElementById('main'), null, {renderer: 'canvas'});

var panels = [
  {box: [186, 45, 468, 291], yMin: -0.089, yMax: 1.869, split: 4, ticks: plasmaAllTicks, digits: 1, gap: 26,
   title: 'Concentration of MPHP in plasma (mg/l)', times: tA, grid: plasmaAllGrid, curves: plasmaAllCurves},
  {box: [743, 45, 461, 291], yMin: -0.01235, yMax: 0.2594, split: 5, ticks: plasmaKeptTicks, digits: 2, gap: 32,
   title: 'Concentration of MPHP in plasma (mg/l)', times: tB, grid: plasmaKeptGrid, curves: plasmaKeptCurves},
  {box: [193, 387, 461, 291], yMin: -0.01175, yMax: 0.2468, split: 5, ticks: urineMphpTicks, digits: 2, gap: 33,
   title: 'Deposition rate of MPHP in urine (mg/hr)', times: tB, grid: urineMphpGrid, curves: urineMphpCurves},
  {box: [738, 387, 467, 291], yMin: -0.0905, yMax: 1.9005, split: 4, ticks: urineOhTicks, digits: 1, gap: 28,
   title: 'Deposition rate of OH-MPHP in urine (mg/hr)', times: tD, grid: urineOhGrid, curves: urineOhCurves}
];

var grids = [], xAxes = [], yAxes = [], series = [];
var labelFont = 'Liberation Sans';

// bulk runs overlap heavily, so they are drawn darker than the stray ones
function addLine(i, pts, dense) {
  series.push({
    type: 'line', xAxisIndex: i, yAxisIndex: i, data: pts,
    showSymbol: false, symbol: 'none', smooth: 0.35, smoothMonotone: 'x',
    silent: true, animation: false, emphasis: {disabled: true},
    lineStyle: {color: '#000', width: dense ? 1.3 : 1, opacity: dense ? 0.62 : 0.32}
  });
}

panels.forEach(function (p, i) {
  grids.push({left: p.box[0], top: p.box[1], width: p.box[2], height: p.box[3],
    show: true, backgroundColor: '#EBEBEB', borderWidth: 0});
  xAxes.push({
    type: 'value', gridIndex: i, min: -2.4, max: 50.4, splitNumber: 5,
    name: 'Time (hours)', nameLocation: 'middle', nameGap: 23,
    nameTextStyle: {color: '#000', fontSize: 14.5, fontFamily: labelFont},
    axisLine: {show: false},
    axisTick: {show: true, length: 4, lineStyle: {color: '#333', width: 1}, customValues: timeTicks},
    axisLabel: {color: '#4d4d4d', fontSize: 12.5, fontFamily: labelFont, margin: 6,
      customValues: timeTicks, formatter: function (v) { return String(v); }},
    splitLine: {show: true, lineStyle: {color: '#fff', width: 1.3}},
    minorTick: {show: false, splitNumber: 2},
    minorSplitLine: {show: true, lineStyle: {color: '#fff', width: 0.7}}
  });
  yAxes.push({
    type: 'value', gridIndex: i, min: p.yMin, max: p.yMax, splitNumber: p.split,
    name: p.title, nameLocation: 'middle', nameGap: p.gap, nameRotate: 90,
    nameTextStyle: {color: '#000', fontSize: 14.5, fontFamily: labelFont},
    axisLine: {show: false},
    axisTick: {show: true, length: 4, lineStyle: {color: '#333', width: 1}, customValues: p.ticks},
    axisLabel: {color: '#4d4d4d', fontSize: 12.5, fontFamily: labelFont, margin: 7,
      customValues: p.ticks, formatter: function (v) { return v.toFixed(p.digits); }},
    splitLine: {show: true, lineStyle: {color: '#fff', width: 1.3}},
    minorTick: {show: false, splitNumber: 2},
    minorSplitLine: {show: true, lineStyle: {color: '#fff', width: 0.7}}
  });
  p.grid.forEach(function (vals) {
    addLine(i, vals.map(function (v, k) { return [p.times[k], v]; }), true);
  });
  p.curves.forEach(function (pts) { addLine(i, pts, false); });
});

var capFont = '"Open Sans", "Noto Sans", sans-serif';
var capRich = {b: {fontWeight: 'bold', fontSize: 17.7, fontFamily: capFont, fill: '#555'}};
var captionLines = [
  'Comparisons of PBPK model predictions corresponding to the Latin Hypercube sample of 500 model runs. Panel {b|(A)} shows the concentration time',
  'profiles for MPHP in venous blood (mg/L) for the 500 samples; panel {b|(B)} shows the retained sample of 248 profiles for MPHP in venous blood (mg/L) following',
  'the rejection step; panel {b|(C)} shows rate of deposition of MPHP into the urine (bladder) (mg/h) for the retained sample; panel {b|(D)} shows rate of deposition of',
  'OH-MPHP into the urine (bladder) (mg/h) for the retained sample.'
];

var graphics = [
  {type: 'line', shape: {x1: 9, y1: 12, x2: 1358, y2: 12}, style: {stroke: '#c8c8c8', lineWidth: 1.5}, silent: true},
  {type: 'line', shape: {x1: 9, y1: 12, x2: 9, y2: 877}, style: {stroke: '#c8c8c8', lineWidth: 1.5}, silent: true},
  {type: 'text', x: 42, y: 753, silent: true,
   style: {text: 'FIGURE 5', fill: '#555', fontSize: 18, fontWeight: 'bold', fontFamily: capFont, verticalAlign: 'middle'}}
];
captionLines.forEach(function (line, k) {
  graphics.push({type: 'text', x: 42, y: 773 + k * 24.5, silent: true,
    style: {text: line, rich: capRich, fill: '#606060', fontSize: 17.7, fontFamily: capFont, verticalAlign: 'middle'}});
});

chart.setOption({
  backgroundColor: '#fff',
  animation: false,
  grid: grids,
  xAxis: xAxes,
  yAxis: yAxes,
  series: series,
  graphic: graphics
});
</script>
</body>
</html>
